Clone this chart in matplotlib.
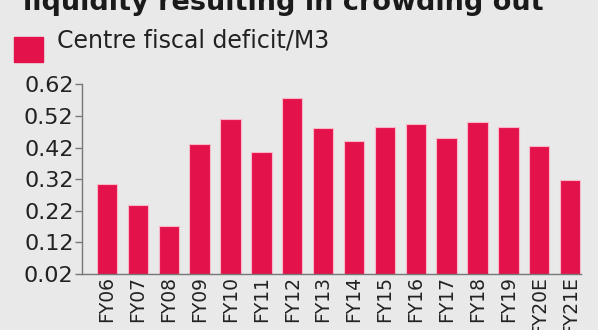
import matplotlib.pyplot as plt
from matplotlib.patches import Rectangle

# 年度ごとの Centre fiscal deficit / M3
years = ['FY06', 'FY07', 'FY08', 'FY09', 'FY10', 'FY11', 'FY12', 'FY13',
         'FY14', 'FY15', 'FY16', 'FY17', 'FY18', 'FY19', 'FY20E', 'FY21E']
ratio = [0.305, 0.238, 0.173, 0.431, 0.510, 0.407, 0.578, 0.481,
         0.441, 0.486, 0.494, 0.449, 0.502, 0.486, 0.426, 0.317]
yticks = [0.02, 0.12, 0.22, 0.32, 0.42, 0.52, 0.62]

bg = '#e9e9e9'
red = '#e4124b'

fig = plt.figure(figsize=(5.98, 3.30), dpi=100, facecolor=bg)
ax = fig.add_axes([0.137, 0.170, 0.835, 0.574], facecolor=bg)

ax.bar(range(len(years)), ratio, width=0.66, color=red, bottom=0,
       edgecolor='#f7b8c8', linewidth=0.8)

ax.set_ylim(0.02, 0.62)
ax.set_xlim(-0.81, 15.36)
ax.set_yticks(yticks)
ax.set_yticklabels(['%.2f' % t for t in yticks], fontsize=16, color='#222222')
ax.set_xticks(range(len(years)))
ax.set_xticklabels(years, rotation=90, fontsize=13.5, color='#222222')
ax.tick_params(axis='y', length=5, width=1, color='#777777', pad=1)
ax.tick_params(axis='x', length=0, pad=1.5)

for s in ['top', 'right']:
    ax.spines[s].set_visible(False)
for s in ['left', 'bottom']:
    ax.spines[s].set_color('#777777')
    ax.spines[s].set_linewidth(1)

# タイトル(上が切れている)
fig.text(23 / 598, 1 - 10 / 330, 'liquidity resulting in crowding out',
         fontsize=19.5, fontweight='bold', color='#1a1a1a', va='baseline')

# 凡例
fig.patches.append(Rectangle((14 / 598, 1 - 62 / 330), 29 / 598, 25 / 330,
                             transform=fig.transFigure, color=red))
fig.text(57 / 598, 1 - 48 / 330, 'Centre fiscal deficit/M3', fontsize=17,
         color='#222222', va='baseline')

fig.savefig('out.png', dpi=100, facecolor=bg)
